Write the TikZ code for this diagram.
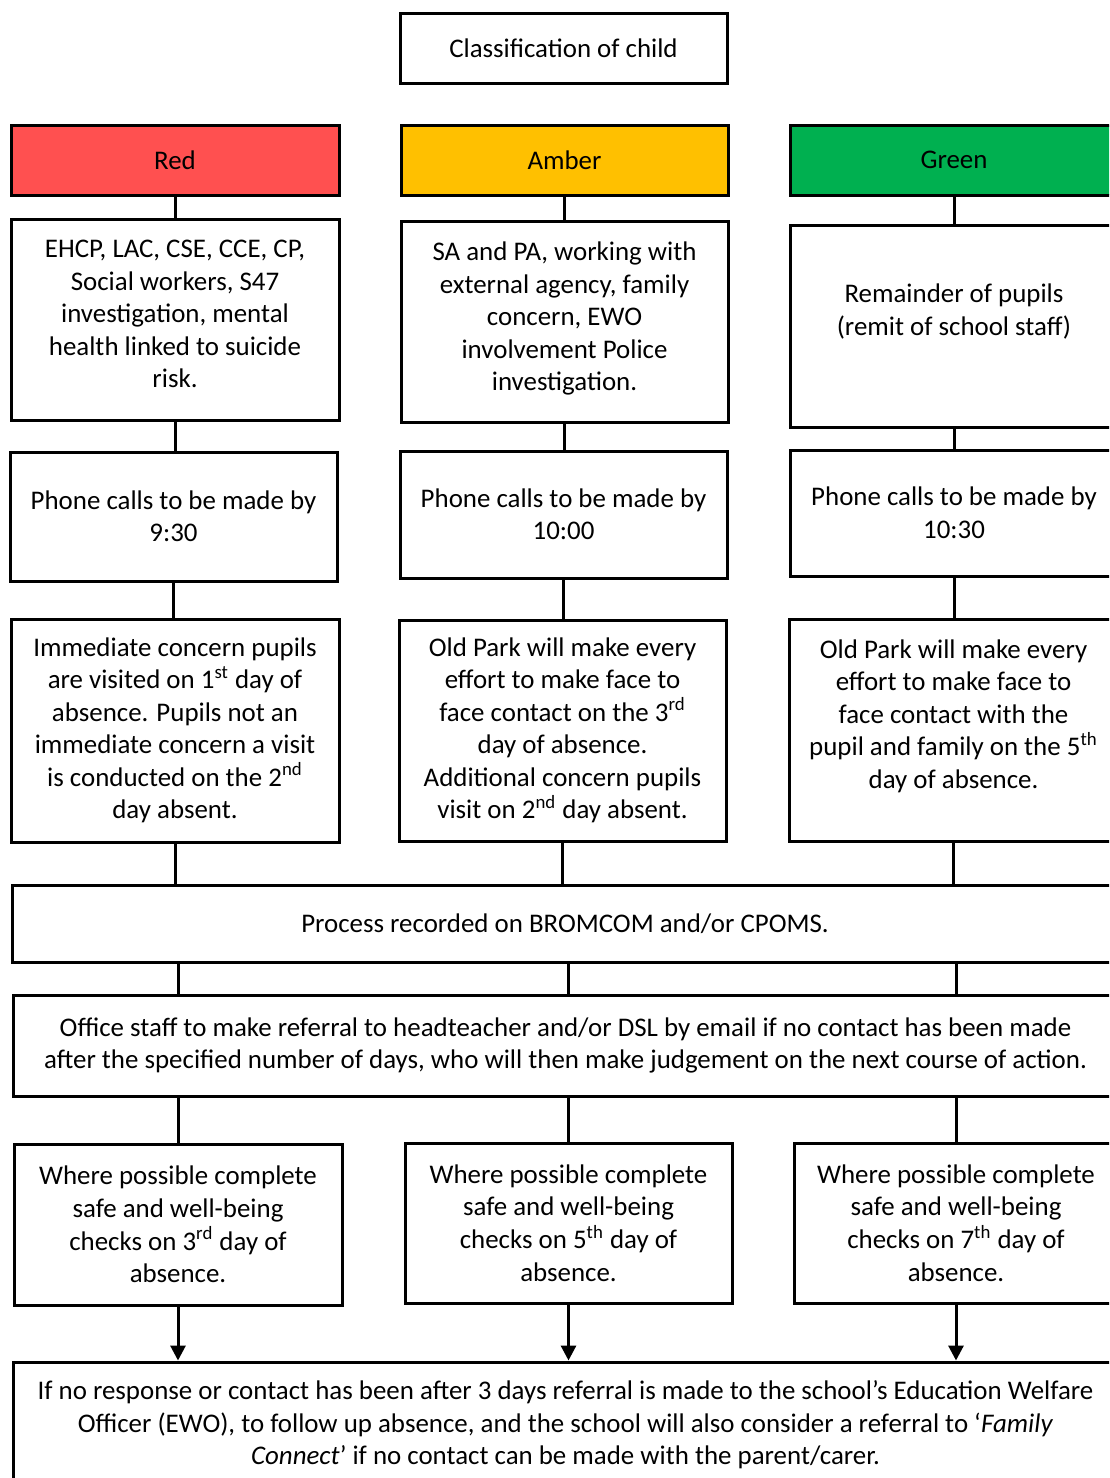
\documentclass[tikz,border=0pt]{standalone}
\usepackage{fontspec}
\setmainfont{Carlito}
\usetikzlibrary{arrows.meta}
\definecolor{cred}{HTML}{FF5050}
\definecolor{camber}{HTML}{FFC000}
\definecolor{cgreen}{HTML}{00B050}
\tikzset{
  box/.style={draw=black, line width=1.5pt, align=center, inner sep=2pt,
    font=\fontsize{13.45}{16.25}\selectfont},
  sz/.style 2 args={minimum width=#1*0.5pt, minimum height=#2*0.5pt},
  link/.style={line width=1.5pt},
  arr/.style={line width=1.5pt, -{Triangle[length=7.5pt,width=7.5pt]}}
}
\begin{document}
\begin{tikzpicture}[x=0.5pt,y=-0.5pt]
\useasboundingbox (0,0) rectangle (1109,1478);
\clip (0,0) rectangle (1109,1478);
\fill[white] (0,0) rectangle (1109,1478);
% top
\node[box, sz={327}{70}] (cls) at (563.5,48) {Classification of child};
% row 1
\node[box, sz={328}{70}, fill=cred] (red1) at (175,160) {Red};
\node[box, sz={327}{70}, fill=camber] (amb1) at (564.5,160) {Amber};
\node[box, sz={328}{70}, fill=cgreen] (grn1) at (954,160) {Green};
% row 2
\node[box, sz={328}{201}] (red2) at (175,319.5) {EHCP, LAC, CSE, CCE, CP,\\ Social workers, S47\\ investigation, mental\\ health linked to suicide\\ risk.\\[-11pt]\mbox{}};
\node[box, sz={327}{201}] (amb2) at (564.5,321.5) {SA and PA, working with\\ external agency, family\\ concern, EWO\\ involvement Police\\ investigation.\\[-11pt]\mbox{}};
\node[box, sz={328}{202}] (grn2) at (954,326) {Remainder of pupils\\ (remit of school staff)\\ \mbox{}};
% row 3
\node[box, sz={327}{129}] (red3) at (173.5,516.5) {Phone calls to be made by\\ 9:30};
\node[box, sz={327}{127}] (amb3) at (563.5,514.5) {Phone calls to be made by\\ 10:00};
\node[box, sz={328}{126}] (grn3) at (954,513) {Phone calls to be made by\\ 10:30};
% row 4
\node[box, sz={328}{223}] (red4) at (175,730.5) {Immediate concern pupils\\ are visited on 1\textsuperscript{st} day of\\ absence. Pupils not an\\ immediate concern a visit\\ is conducted on the 2\textsuperscript{nd}\\ day absent.};
\node[box, sz={327}{221}] (amb4) at (562.5,730.5) {Old Park will make every\\ effort to make face to\\ face contact on the 3\textsuperscript{rd}\\ day of absence.\\ Additional concern pupils\\ visit on 2\textsuperscript{nd} day absent.};
\node[box, sz={329}{222}] (grn4) at (953.5,730) {Old Park will make every\\ effort to make face to\\ face contact with the\\ pupil and family on the 5\textsuperscript{th}\\ day of absence.\\ \mbox{}};
% process / office
\node[box, sz={1106}{77}] (proc) at (565,923.5) {Process recorded on BROMCOM and/or CPOMS.};
\node[box, sz={1105}{101}] (off) at (565.5,1045.5) {Office staff to make referral to headteacher and/or DSL by email if no contact has been made\\ after the specified number of days, who will then make judgement on the next course of action.};
% row 6
\node[box, sz={328}{161}] (red6) at (178,1224.5) {Where possible complete\\ safe and well-being\\ checks on 3\textsuperscript{rd} day of\\ absence.};
\node[box, sz={327}{160}] (amb6) at (568.5,1223) {Where possible complete\\ safe and well-being\\ checks on 5\textsuperscript{th} day of\\ absence.};
\node[box, sz={324}{160}] (grn6) at (956,1223) {Where possible complete\\ safe and well-being\\ checks on 7\textsuperscript{th} day of\\ absence.};
% bottom
\node[box, sz={1105}{126}] (bot) at (565.5,1425) {If no response or contact has been after 3 days referral is made to the school’s Education Welfare\\ Officer (EWO), to follow up absence, and the school will also consider a referral to ‘\textit{Family}\\ \textit{Connect}’ if no contact can be made with the parent/carer.};
% connectors
\foreach \a/\b in {red1/red2, red2/red3, red3/red4, amb1/amb2, amb2/amb3, amb3/amb4, grn1/grn2, grn2/grn3, grn3/grn4} {
  \draw[link] (\a.south) -- (\a.south |- \b.north);
}
\foreach \c in {red4, amb4, grn4} {
  \draw[link] (\c.south) -- (\c.south |- proc.north);
}
\foreach \c in {red6, amb6, grn6} {
  \draw[link] (proc.south -| \c) -- (off.north -| \c);
  \draw[link] (off.south -| \c) -- (\c.north);
  \draw[arr] (\c.south) -- (\c.south |- bot.north);
}
\end{tikzpicture}
\end{document}
